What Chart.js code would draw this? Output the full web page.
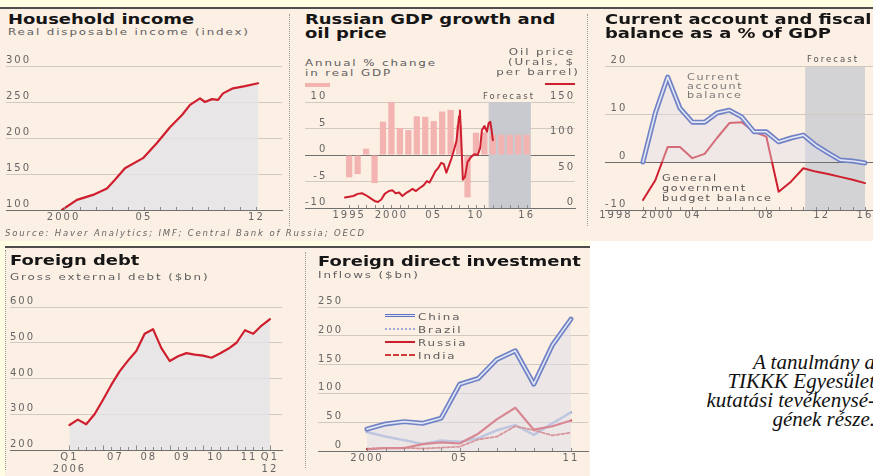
<!DOCTYPE html>
<html lang="en"><head><meta charset="utf-8">
<title>Russia economy charts</title>
<script src="https://cdn.jsdelivr.net/npm/chart.js@4.4.1/dist/chart.umd.min.js"></script>
<style>
html,body{margin:0;padding:0;}
body{position:relative;width:873px;height:476px;overflow:hidden;background:#fff;font-family:"DejaVu Sans",sans-serif;}
.bg{position:absolute;}
.sep{position:absolute;width:0;border-left:1px dotted #a09a94;}
.ttl{position:absolute;font-weight:bold;font-size:13.5px;line-height:13.5px;color:#161616;white-space:nowrap;transform:scaleX(1.33);transform-origin:0 0;}
.sub{position:absolute;font-size:9.5px;line-height:10px;color:#5e5e5e;white-space:nowrap;letter-spacing:1.5px;transform:scaleX(1.25);transform-origin:0 0;}
.note{position:absolute;font-size:9px;white-space:nowrap;letter-spacing:1.3px;transform:scaleX(1.25);transform-origin:0 0;}
.lab{position:absolute;white-space:nowrap;}
.sw{position:absolute;}
canvas{position:absolute;}
</style></head>
<body>
<!-- backgrounds -->
<div class="bg" style="left:0;top:0;width:873px;height:7px;background:#fffde2"></div>
<div class="bg" style="left:0;top:7px;width:873px;height:2px;background:#4e4e4e"></div>
<div class="bg" style="left:0;top:9px;width:873px;height:232px;background:#fcefe4"></div>
<div class="bg" style="left:0;top:241px;width:590px;height:5px;background:#fffde2"></div>
<div class="bg" style="left:0;top:241px;width:5px;height:235px;background:#fffde2"></div>
<div class="bg" style="left:5px;top:246px;width:585px;height:2px;background:#4e4e4e"></div>
<div class="bg" style="left:5px;top:248px;width:585px;height:228px;background:#fcefe4"></div>
<div class="sep" style="left:289px;top:14px;height:212px"></div>
<div class="sep" style="left:587px;top:14px;height:212px"></div>
<div class="sep" style="left:305px;top:252px;height:216px"></div>
<div class="sep" style="left:5px;top:250px;height:220px"></div>

<canvas id="c1"></canvas>
<canvas id="c2"></canvas>
<canvas id="c3"></canvas>
<canvas id="c4"></canvas>
<canvas id="c5"></canvas>

<!-- panel 1 text -->
<div class="ttl" style="left:8px;top:13.4px">Household income</div>
<div class="sub" style="left:8px;top:27px">Real disposable income (index)</div>

<!-- panel 2 text -->
<div class="ttl" style="left:305px;top:13.4px">Russian GDP growth and<br>oil price</div>
<div class="sub" style="left:305px;top:58px;line-height:9.5px">Annual % change<br>in real GDP</div>
<div class="sw" style="left:305px;top:83px;width:25px;height:4px;background:#f2b3b1"></div>
<div class="sub" style="left:512px;top:47px;width:63px;text-align:right;line-height:10px;transform-origin:100% 0">Oil price<br>(Urals, $<br>per barrel)</div>
<div class="sw" style="left:545px;top:83px;width:30px;height:2px;background:#cf1f2e"></div>
<div class="lab" style="left:473px;top:91.6px;width:62px;text-align:right;font-size:8.5px;line-height:8.5px;color:#555;letter-spacing:2px">Forecast</div>

<!-- panel 3 text -->
<div class="ttl" style="left:605px;top:13.4px">Current account and fiscal<br>balance as a % of GDP</div>
<div class="lab" style="left:807px;top:55.4px;font-size:8.5px;line-height:8.5px;color:#555;letter-spacing:2px">Forecast</div>
<div class="note" style="left:687px;top:72.8px;line-height:9px;color:#7a7a7a">Current<br>account<br>balance</div>
<div class="note" style="left:662px;top:173.3px;line-height:10px;color:#555">General<br>government<br>budget balance</div>

<!-- source -->
<div class="lab" style="left:5px;top:229px;font-size:8.5px;line-height:9px;font-style:italic;color:#666;letter-spacing:1.85px">Source: Haver Analytics; IMF; Central Bank of Russia; OECD</div>

<!-- panel 4 text -->
<div class="ttl" style="left:10px;top:254.1px">Foreign debt</div>
<div class="sub" style="left:10px;top:272px">Gross external debt ($bn)</div>

<!-- panel 5 text -->
<div class="ttl" style="left:318px;top:255px">Foreign direct investment</div>
<div class="sub" style="left:318px;top:270.3px">Inflows ($bn)</div>
<div class="sw" style="left:385px;top:314px;width:30px;height:1px;border-top:1.5px solid #5f72bd;border-bottom:1.5px solid #5f72bd;background:#e3e6f4"></div>
<div class="sw" style="left:385px;top:328px;width:30px;height:0;border-top:2.5px dotted #9aa9d8"></div>
<div class="sw" style="left:385px;top:341px;width:30px;height:2px;background:#cf1f2e"></div>
<div class="sw" style="left:385px;top:354px;width:30px;height:0;border-top:2px dashed #cf3a3a"></div>
<div class="sub" style="left:418px;top:309.5px;line-height:13px;color:#5a5a5a">China<br>Brazil<br>Russia<br>India</div>

<!-- side note -->
<div class="lab" style="right:-2px;top:353px;text-align:right;font-family:'Liberation Serif',serif;font-style:italic;font-size:21px;line-height:19px;color:#111">A tanulmány a<br>TIKKK Egyesület<br>kutatási tevékenysé-<br>gének része.</div>

<script>
// ---------------- data ----------------
// Household income: real disposable income index
const incomeTime  = [1999.9, 2000.83, 2001.83, 2002.7, 2003.2, 2003.82, 2004.94, 2005.81, 2006.62, 2007.37, 2007.87, 2008.49, 2008.8, 2009.23, 2009.61, 2009.92, 2010.54, 2011.29, 2012.1];
const incomeIndex = [100, 114, 121, 130, 142, 158, 172, 193, 215, 232, 246, 255, 250, 254, 253, 262, 269, 272, 276];
const incomeYTicks = [100, 150, 200, 250, 300];
const incomeXTicks = [2000, 2005, 2012];
const incomeXLabels = ['2000', '05', '12'];
const incomeYears = [2000, 2001, 2002, 2003, 2004, 2005, 2006, 2007, 2008, 2009, 2010, 2011, 2012];

// Russian GDP growth (annual %) and Urals oil price ($/barrel)
const gdpYears  = [1995, 1996, 1997, 1998, 1999, 2000, 2001, 2002, 2003, 2004, 2005, 2006, 2007, 2008, 2009, 2010, 2011, 2012, 2013, 2014, 2015, 2016];
const gdpGrowth = [-4.2, -3.6, 1.2, -5.3, 6.3, 10.0, 5.1, 4.7, 7.3, 7.2, 6.4, 8.2, 8.5, 5.6, -8.0, 4.2, 4.3, 3.8, 3.8, 3.8, 3.8, 3.8];
const oilTime  = [1995.0, 1995.5, 1996.0, 1996.5, 1997.0, 1997.5, 1998.0, 1998.5, 1998.9, 1999.3, 1999.7, 2000.2, 2000.6, 2001.0, 2001.4, 2001.8, 2002.2, 2002.6, 2003.0, 2003.4, 2003.8, 2004.3, 2004.7, 2005.0, 2005.4, 2005.7, 2006.0, 2006.4, 2006.7, 2007.0, 2007.3, 2007.6, 2007.9, 2008.2, 2008.5, 2008.6, 2008.8, 2008.95, 2009.2, 2009.5, 2009.9, 2010.3, 2010.7, 2011.0, 2011.2, 2011.5, 2011.8, 2012.0, 2012.2, 2012.35, 2012.5];
const oilPrice = [15, 16, 17, 20, 21, 18, 14, 10, 8.5, 12, 20, 24, 25, 21, 22, 17, 21, 24, 27, 24, 28, 32, 38, 36, 45, 52, 56, 64, 62, 50, 60, 70, 82, 95, 130, 138, 85, 40, 44, 65, 72, 76, 75, 85, 110, 116, 108, 120, 122, 110, 96];
const gdpForecast = [2012, 2017];
const gdpYTicks = [-10, -5, 0, 5, 10];
const oilYTicks = [0, 50, 100, 150];
const gdpXTicks = [1995, 2000, 2005, 2010, 2016];
const gdpXLabels = ['1995', '2000', '05', '10', '16'];

// Current account and budget balance, % of GDP
const caYears = [1998, 1999, 2000, 2001, 2002, 2003, 2004, 2005, 2006, 2007, 2008, 2009, 2010, 2011, 2012, 2013, 2014, 2015, 2016];
const currentAccount = [0, 10.2, 17.7, 11.2, 8.3, 8.3, 10.2, 10.8, 9.4, 6.3, 6.3, 4.2, 5.0, 5.6, 3.5, 1.9, 0.4, 0.2, -0.2];
const budgetBalance  = [-7.9, -3.8, 3.1, 3.1, 0.8, 1.7, 5.0, 8.1, 8.3, 6.3, 5.3, -6.2, -4.1, -1.3, -2.0, -2.5, -3.1, -3.7, -4.4];
const caForecast = [2011.15, 2016];
const caYTicks = [-10, 0, 10, 20];
const caXTicks = [1998, 2000, 2004, 2008, 2012, 2016];
const caXLabels = ['1998', '2000', '04', '08', '12', '16'];

// Gross external debt, $bn, quarterly from Q1 2006 to Q1 2012
const debtFirstYear = 2006;
const debtBn = [270, 285, 272, 300, 340, 382, 420, 450, 477, 525, 538, 485, 449, 462, 471, 467, 464, 458, 470, 483, 500, 535, 525, 548, 566];
const debtYTicks = [200, 300, 400, 500, 600];
const debtXYears = [2006, 2007, 2008, 2009, 2010, 2011, 2012];
const debtXLabels = [['Q1', '2006'], '07', '08', '09', '10', '11', ['Q1', '12']];

// FDI inflows, $bn
const fdiYears  = [2000, 2001, 2002, 2003, 2004, 2005, 2006, 2007, 2008, 2009, 2010, 2011];
const fdiChina  = [38, 47, 51, 48, 57, 116, 126, 159, 174, 116, 184, 229];
const fdiBrazil = [33, 25, 19, 12, 18, 16, 22, 36, 45, 28, 48, 67];
const fdiRussia = [3, 5, 5, 12, 15, 13, 30, 55, 75, 37, 43, 53];
const fdiIndia  = [4, 5.5, 5.6, 4.3, 5.8, 7.6, 20, 25, 43, 36, 27, 32];
const fdiYTicks = [0, 50, 100, 150, 200, 250];
const fdiXTicks = [2000, 2005, 2011];
const fdiXLabels = ['2000', '05', '11'];

// ---------------- helpers ----------------
Chart.defaults.font.family = 'DejaVu Sans';
Chart.defaults.color = '#6b6b6b';
const LS = '2px';
const TICK_FONT = {family: 'DejaVu Sans', size: 10, lineHeight: 1.2};
const TICK_COLOR = '#666';
const pts = (xs, ys) => xs.map((x, i) => ({x, y: ys[i]}));

function decor(cfg) {
  const shade = chart => {
    const {ctx, chartArea: a, scales: {x}} = chart;
    const x0 = x.getPixelForValue(cfg.shade[0]), x1 = x.getPixelForValue(cfg.shade[1]);
    ctx.save(); ctx.fillStyle = cfg.shadeColor; ctx.fillRect(x0, a.top, x1 - x0, a.bottom - a.top); ctx.restore();
  };
  return {
    id: 'decor',
    beforeUpdate(chart) { chart.ctx.letterSpacing = LS; },
    beforeLayout(chart) { chart.ctx.letterSpacing = LS; },
    beforeDraw(chart) { chart.ctx.letterSpacing = LS; if (cfg.shade && cfg.shadeUnder) shade(chart); },
    beforeDatasetsDraw(chart) { if (cfg.shade && !cfg.shadeUnder) shade(chart); },
    afterDatasetsDraw(chart) {
      const {ctx, chartArea: a, scales: {x}} = chart;
      ctx.save(); ctx.strokeStyle = '#8d8a88'; ctx.lineWidth = 1;
      const draw = (vals, len) => (vals || []).forEach(v => {
        const px = Math.round(x.getPixelForValue(v)) + 0.5;
        ctx.beginPath(); ctx.moveTo(px, a.bottom); ctx.lineTo(px, a.bottom - len); ctx.stroke();
      });
      draw(cfg.minor, 3); draw(cfg.major, 4.5);
      ctx.restore();
    },
    afterDraw(chart) {
      // x labels placed by the x scale, with a small per-label nudge (crowded axis)
      if (!cfg.labels) return;
      const {ctx, chartArea: a, scales: {x}} = chart;
      const L = cfg.labels;
      ctx.save();
      ctx.letterSpacing = LS;
      ctx.font = TICK_FONT.size + 'px "DejaVu Sans"';
      ctx.fillStyle = TICK_COLOR; ctx.textAlign = 'center'; ctx.textBaseline = 'middle';
      L.values.forEach((v, i) => ctx.fillText(L.text[i], x.getPixelForValue(v) + (L.nudge[i] || 0), a.bottom + L.dy));
      ctx.restore();
    }
  };
}

function place(id, box) {
  const c = document.getElementById(id);
  c.width = box.w; c.height = box.h;
  Object.assign(c.style, {left: box.x + 'px', top: box.y + 'px', width: box.w + 'px', height: box.h + 'px'});
  return c;
}
function padding(box, area, xAxisH) {
  return {left: area.l - box.x, top: area.t - box.y, right: box.x + box.w - area.r, bottom: box.y + box.h - area.b - xAxisH};
}
function yScale(min, max, ticks, opt = {}) {
  const dark = opt.dark || [];
  return {
    type: 'linear', position: opt.position || 'left', min, max,
    border: {display: false},
    grid: {display: opt.grid !== false, drawTicks: false, lineWidth: 1,
      color: c => dark.includes(c.tick.value) ? '#6f6f6f' : '#d2c9c0'},
    ticks: {mirror: true, padding: 0, labelOffset: -5.5, crossAlign: opt.position === 'right' ? 'near' : 'far',
      color: TICK_COLOR, font: TICK_FONT},
    afterBuildTicks: s => { s.ticks = ticks.map(v => ({value: v})); }
  };
}
function xScale(min, max, vals, labels, pad, font, show = true) {
  return {
    type: 'linear', min, max, offset: false,
    border: {display: true, color: '#6f6f6f', width: 1},
    grid: {display: false, drawTicks: false},
    ticks: {display: show, padding: pad, color: TICK_COLOR, font: font || TICK_FONT, maxRotation: 0, minRotation: 0, autoSkip: false,
      callback: (v, i) => labels[i]},
    afterBuildTicks: s => { s.ticks = vals.map(v => ({value: v})); }
  };
}
const base = pad => ({
  responsive: false, animation: false, events: [],
  layout: {padding: pad},
  plugins: {legend: {display: false}, tooltip: {enabled: false}},
  elements: {point: {radius: 0}, line: {tension: 0, borderJoinStyle: 'round', borderCapStyle: 'round'}}
});
const RED = '#cf1f2e';
const FILL = 'rgba(226,227,231,0.8)';
const XH = 10 * 1.2;

// ---------------- 1. Household income ----------------
{
  const box = {x: 0, y: 40, w: 290, h: 200}, area = {l: 6, t: 66, r: 282, b: 210};
  const pad = padding(box, area, XH + 2 * 1.2);
  const o = base(pad);
  o.scales = {
    x: xScale(1996.42, 2013.59, incomeXTicks, incomeXLabels, 1.2),
    y: yScale(100, 300, incomeYTicks, {dark: [100]})
  };
  new Chart(place('c1', box), {
    type: 'line',
    data: {datasets: [{data: pts(incomeTime, incomeIndex), borderColor: RED, borderWidth: 2.2, fill: 'start', backgroundColor: FILL}]},
    options: o,
    plugins: [decor({minor: incomeYears})]
  });
}

// ---------------- 2. GDP growth & oil price ----------------
{
  const box = {x: 295, y: 80, w: 295, h: 160}, area = {l: 305, t: 102, r: 575, b: 208};
  const pad = padding(box, area, XH + 2 * 1.2);
  const o = base(pad);
  o.scales = {
    x: xScale(1990.27, 2022.22, gdpXTicks.map(y => y + 0.5), gdpXLabels, 1.2),
    y: yScale(-10, 10, gdpYTicks, {dark: [0]}),
    y2: yScale(0, 150, oilYTicks, {position: 'right', grid: false})
  };
  new Chart(place('c2', box), {
    type: 'line',
    data: {datasets: [
      {type: 'line', yAxisID: 'y2', order: 0, data: pts(oilTime, oilPrice), borderColor: RED, borderWidth: 2, fill: false},
      {type: 'bar', yAxisID: 'y', order: 1, data: pts(gdpYears.map(y => y + 0.5), gdpGrowth), backgroundColor: '#f2b3b1',
       categoryPercentage: 0.82, barPercentage: 0.9}
    ]},
    options: o,
    plugins: [decor({shade: gdpForecast, shadeColor: '#c9cacf', minor: gdpYears.map(y => y + 0.5)})]
  });
}

// ---------------- 3. Current account & budget balance ----------------
{
  const box = {x: 595, y: 40, w: 290, h: 200}, area = {l: 605, t: 66, r: 873, b: 210};
  const pad = padding(box, area, 0);
  const o = base(pad);
  o.scales = {
    x: xScale(1994.92, 2016.65, caXTicks, caXLabels, 0, null, false),
    y: yScale(-10, 20, caYTicks, {dark: [0, -10]})
  };
  new Chart(place('c3', box), {
    type: 'line',
    data: {datasets: [
      {order: 0, data: pts(caYears, currentAccount), borderColor: '#e4e7f5', borderWidth: 1.6, fill: false},
      {order: 1, data: pts(caYears, currentAccount), borderColor: '#7183c6', borderWidth: 5, fill: 'origin', backgroundColor: 'rgba(222,223,232,0.4)'},
      {order: 2, data: pts(caYears, budgetBalance), borderColor: RED, borderWidth: 2, fill: false}
    ]},
    options: o,
    plugins: [decor({shade: caForecast, shadeUnder: true, shadeColor: '#d3d2d5', minor: caYears,
      labels: {values: caXTicks, text: caXLabels, nudge: [-27, -10, -24, 0, 6, 0], dy: 5}})]
  });
}

// ---------------- 4. Foreign debt ----------------
{
  const box = {x: 5, y: 285, w: 300, h: 200}, area = {l: 10, t: 307, r: 282, b: 450};
  const font = {family: 'DejaVu Sans', size: 10, lineHeight: 1.2};
  const pad = padding(box, area, 2 * XH + 2 * 1);
  const o = base(pad);
  const last = debtXYears.length - 1;
  const labelPos = debtXYears.map((y, i) => (i === 0 || i === last) ? y : y + 0.375);
  o.scales = {
    x: xScale(2004.22, 2012.36, labelPos, debtXLabels, 1, font),
    y: yScale(200, 600, debtYTicks, {dark: [200]})
  };
  const debtTime = debtBn.map((_, i) => debtFirstYear + i / 4);
  new Chart(place('c4', box), {
    type: 'line',
    data: {datasets: [{data: pts(debtTime, debtBn), borderColor: RED, borderWidth: 2.2, fill: 'start', backgroundColor: FILL}]},
    options: o,
    plugins: [decor({minor: debtTime, major: debtXYears})]
  });
}

// ---------------- 5. FDI inflows ----------------
{
  const box = {x: 305, y: 285, w: 285, h: 200}, area = {l: 318, t: 307, r: 588, b: 451};
  const pad = padding(box, area, XH + 2 * 1.2);
  const o = base(pad);
  o.scales = {
    x: xScale(1997.36, 2011.92, fdiXTicks, fdiXLabels, 1.2),
    y: yScale(0, 250, fdiYTicks, {dark: [0]})
  };
  new Chart(place('c5', box), {
    type: 'line',
    data: {datasets: [
      {order: 0, data: pts(fdiYears, fdiChina), borderColor: '#e3e6f4', borderWidth: 1.6, fill: false},
      {order: 1, data: pts(fdiYears, fdiChina), borderColor: '#6f82c6', borderWidth: 5, fill: 'origin', backgroundColor: 'rgba(222,223,232,0.55)'},
      {order: 2, data: pts(fdiYears, fdiRussia), borderColor: RED, borderWidth: 2.2, fill: false},
      {order: 3, data: pts(fdiYears, fdiIndia), borderColor: '#cf3a3a', borderWidth: 1.8, borderDash: [3, 2], fill: false},
      {order: 4, data: pts(fdiYears, fdiBrazil), borderColor: '#9aa9d8', borderWidth: 2.6, borderDash: [2.5, 1.5], fill: false}
    ]},
    options: o,
    plugins: [decor({minor: fdiYears})]
  });
}
</script>
</body></html>
